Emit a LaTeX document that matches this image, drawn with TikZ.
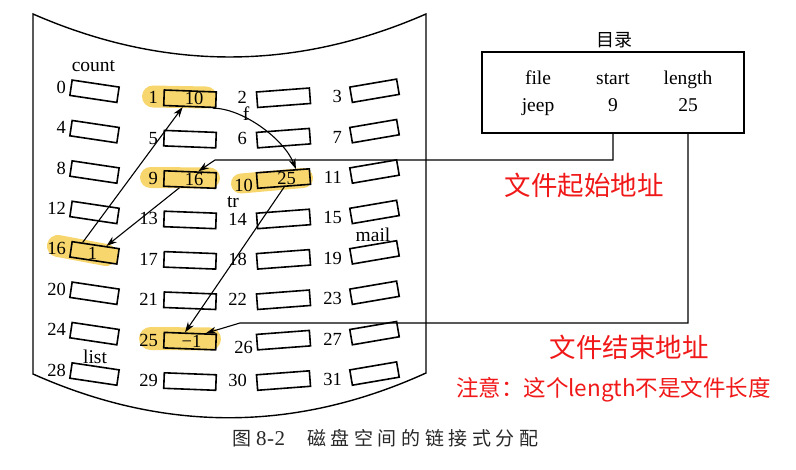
\documentclass[tikz,border=0pt]{standalone}
\usepackage{fontspec}
\setmainfont{Liberation Serif}
\newfontfamily\cjk{Noto Sans CJK SC}
\usetikzlibrary{arrows.meta,calc}
\definecolor{hl}{RGB}{248,214,110}
\definecolor{redtxt}{RGB}{240,24,24}
\definecolor{captxt}{RGB}{40,40,40}
\newcommand\capsp{\hspace{4.6pt}}
\begin{document}
\begin{tikzpicture}[x=1pt,y=-1pt,
  slot/.style={draw, line width=1.6pt, inner sep=0pt, minimum height=15.5pt},
  num/.style={inner sep=0pt, font=\fontsize{18.5}{18.5}\selectfont},
  word/.style={inner sep=0pt, font=\fontsize{19.5}{20}\selectfont},
  arr/.style={line width=1.1pt, -{Stealth[length=10.5pt,width=7pt]}},
  blob/.style={line width=#1, line cap=round, draw=hl},
  disk/.style={line width=1.4pt},
  redbig/.style={inner sep=0pt, text=redtxt, font=\cjk\fontsize{26.5}{27}\selectfont},
  redsmall/.style={inner sep=0pt, text=redtxt, font=\cjk\fontsize{22.5}{23}\selectfont}]
\useasboundingbox (0,0) rectangle (796,470);
% disk outline
\draw[disk] (33,14) .. controls (164.3,71.3) and (294.7,71.3) .. (426,14)
  -- (426,373) .. controls (295,432.5) and (164,432.5) .. (33,374) -- cycle;
% highlights
\draw[blob=22pt] (153,96.5) -- (206,97.5);
\draw[blob=21pt] (150.5,177.5) -- (209.5,178);
\draw[blob=20pt] (241,183.5) -- (303,178);
\draw[blob=22pt] (58,246) -- (106,255);
\draw[blob=23pt] (150.5,338.5) -- (209.5,339);
% slots and their numbers
\foreach \cc/\xc/\yc/\ang/\ww/\lx/\ly in {0/94.5/91.25/-8.5/47.5/66/-4, 1/190/98.75/-2.2/52/158/-1, 2/283.5/97.75/4.3/53/247/0, 3/374.5/90.75/9.7/47.5/342/6}{
  \foreach \rr in {0,...,7}{
    \pgfmathtruncatemacro\nn{4*\rr+\cc}
    \pgfmathtruncatemacro\ishl{(\nn==1||\nn==9||\nn==10||\nn==16||\nn==25)?1:0}
    \pgfmathtruncatemacro\isoff{(\nn==10||\nn==26)?1:0}
    \ifnum\ishl=1 \def\fc{hl}\else\def\fc{none}\fi
    \node[slot, rotate=\ang, minimum width=\ww pt, fill=\fc] (s\nn) at (\xc, {\yc+40.4*\rr}) {};
    \node[num, anchor=east] (l\nn) at ({\lx+6*\isoff}, {\yc+\ly+40.4*\rr+7*\isoff}) {\nn};
  }
}
% contents of the used blocks
\node[num] (v1) at ($(s1)+(4,0)$) {10};
\node[num] (v9) at ($(s9)+(4,0)$) {16};
\node[num] (v10) at ($(s10)+(3,0)$) {25};
\node[num] (v16) at ($(s16)+(-2,1)$) {1};
\node[num] (v25) at ($(s25)+(1.5,0)$) {−1};
% file names
\node[word] (tcount) at (93.5,66) {count};
\node[word] (tmail) at (373,235) {mail};
\node[word] (tlist) at (95,357) {list};
\node[word] (ttr) at (233,202) {tr};
\node[word] (tf) at (246,114) {f};
% chain
\draw[arr] ($(s1.south west)!0.93!(s1.south east)$) .. controls +(30,0) and +(-12,-30) .. ($(s10.north west)!0.74!(s10.north east)$);
\draw[arr] (s10.south) -- ($(s25.north west)!0.4!(s25.north east)$);
\draw[arr] ($(s9.south west)!0.31!(s9.south east)$) -- ($(s16.north west)!0.72!(s16.north east)$);
\draw[arr] ($(s16.north west)!0.23!(s16.north east)$) -- ($(s1.south west)!0.37!(s1.south east)$);
% directory
\node[draw, line width=1.4pt, minimum width=262pt, minimum height=81pt, inner sep=0pt] (dir) at (613,92.5) {};
\node[inner sep=0pt, font=\cjk\fontsize{18}{18}\selectfont] (mulu) at (614,40) {目录};
\node[word, anchor=base] (hfile) at (538,85) {file};
\node[word, anchor=base] (hstart) at (613,85) {start};
\node[word, anchor=base] (hlen) at (688,85) {length};
\node[word, anchor=base] (djeep) at (538,112) {jeep};
\node[word, anchor=base] (d9) at (613,112) {9};
\node[word, anchor=base] (d25) at (688,112) {25};
\coordinate (c1) at (215,160);
\draw[arr] (dir.south -| hstart) |- (c1) -- ($(s9.north west)!0.65!(s9.north east)$);
\coordinate (c2) at (240,323);
\draw[arr] (dir.south -| hlen) |- (c2) -- ($(s25.north west)!0.79!(s25.north east)$);
% red notes
\node[redbig] (r1) at (584,185) {文件起始地址};
\node[redbig] (r2) at (629,347) {文件结束地址};
\node[redsmall] (r3) at (613.5,390) {注意：这个length不是文件长度};
% caption
\node[anchor=west, inner sep=0pt, text=captxt, font=\cjk\fontsize{19}{19}\selectfont] (cap) at (232,438)
  {图\hspace{5pt}{\rmfamily\fontsize{21}{21}\selectfont 8\hspace{0.5pt}-\hspace{0.5pt}2}\hspace{22pt}磁\capsp 盘\capsp 空\capsp 间\capsp 的\capsp 链\capsp 接\capsp 式\capsp 分\capsp 配};
\end{tikzpicture}
\end{document}
